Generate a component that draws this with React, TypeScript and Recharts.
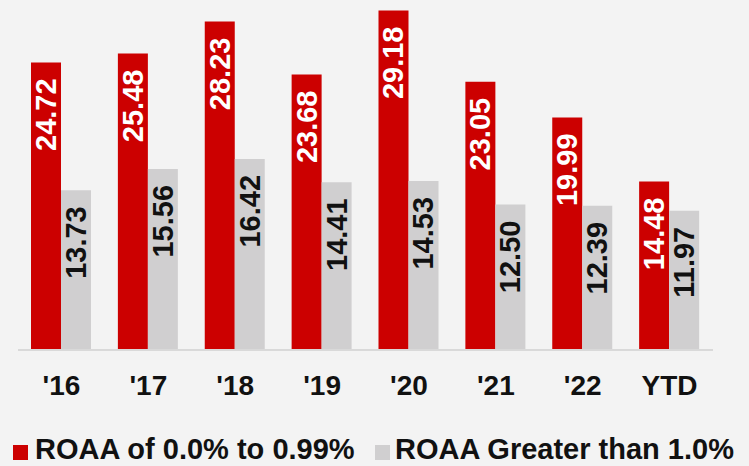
import React from "react";
import { BarChart, Bar, XAxis, YAxis, Legend, LabelList } from "recharts";

const categories = ["'16", "'17", "'18", "'19", "'20", "'21", "'22", "YTD"];
const lowRoaa = [24.72, 25.48, 28.23, 23.68, 29.18, 23.05, 19.99, 14.48];
const highRoaa = [13.73, 15.56, 16.42, 14.41, 14.53, 12.5, 12.39, 11.97];
const seriesNames = ["ROAA of 0.0% to 0.99%", "ROAA Greater than 1.0%"];

const RED = "#cc0000";
const GRAY = "#d0cfd0";
const FONT = "'Liberation Sans', Arial, Helvetica, sans-serif";

const data = categories.map((c, i) => ({ cat: c, low: lowRoaa[i], high: highRoaa[i] }));

const makeLabel = (color: string) => (props: any) => {
  const { x, y, width, value } = props;
  const cx = Number(x) + Number(width) / 2;
  const ty = Number(y) + 16;
  return (
    <text
      x={cx}
      y={ty}
      transform={`rotate(-90 ${cx} ${ty})`}
      textAnchor="end"
      dominantBaseline="central"
      fill={color}
      fontFamily={FONT}
      fontWeight="bold"
      fontSize={29}
    >
      {Number(value).toFixed(2)}
    </text>
  );
};

const Tick = (props: any) => {
  const { x, y, payload } = props;
  return (
    <text
      x={x}
      y={Number(y) + 45}
      textAnchor="middle"
      fill="#111111"
      fontFamily={FONT}
      fontWeight="bold"
      fontSize={28}
    >
      {payload.value}
    </text>
  );
};

const LegendContent = () => {
  const items = [
    { name: seriesNames[0], color: RED, sq: 13, tx: 35 },
    { name: seriesNames[1], color: GRAY, sq: 375, tx: 395 },
  ];
  return (
    <div style={{ position: "relative", width: 749, height: 24 }}>
      {items.map((it) => (
        <React.Fragment key={it.name}>
          <div
            style={{
              position: "absolute",
              left: it.sq,
              top: 8,
              width: 15,
              height: 15,
              background: it.color,
            }}
          />
          <div
            style={{
              position: "absolute",
              left: it.tx,
              top: 0,
              whiteSpace: "nowrap",
              fontFamily: FONT,
              fontWeight: "bold",
              fontSize: 29,
              lineHeight: "24px",
              color: "#111111",
            }}
          >
            {it.name}
          </div>
        </React.Fragment>
      ))}
    </div>
  );
};

export default function App() {
  return (
    <div style={{ position: "absolute", left: 0, top: 0, width: 749, height: 466, background: "#f3f3f3", overflow: "hidden" }}>
      <BarChart
        width={749}
        height={466}
        data={data}
        margin={{ top: 1, right: 36, left: 18, bottom: 56 }}
        barGap={0}
        barSize={30}
      >
        <XAxis
          dataKey="cat"
          height={60}
          tickLine={false}
          tickSize={0}
          tickMargin={0}
          axisLine={{ stroke: "#d9d9d9", strokeWidth: 2 }}
          tick={<Tick />}
          interval={0}
        />
        <YAxis hide domain={[0, 30]} />
        <Legend
          layout="horizontal"
          verticalAlign="middle"
          align="center"
          content={<LegendContent />}
          wrapperStyle={{ position: "absolute", top: 437, left: 0, width: 749 }}
        />
        <Bar dataKey="low" name={seriesNames[0]} fill={RED} isAnimationActive={false}>
          <LabelList dataKey="low" content={makeLabel("#ffffff")} />
        </Bar>
        <Bar dataKey="high" name={seriesNames[1]} fill={GRAY} isAnimationActive={false}>
          <LabelList dataKey="high" content={makeLabel("#111111")} />
        </Bar>
      </BarChart>
    </div>
  );
}
